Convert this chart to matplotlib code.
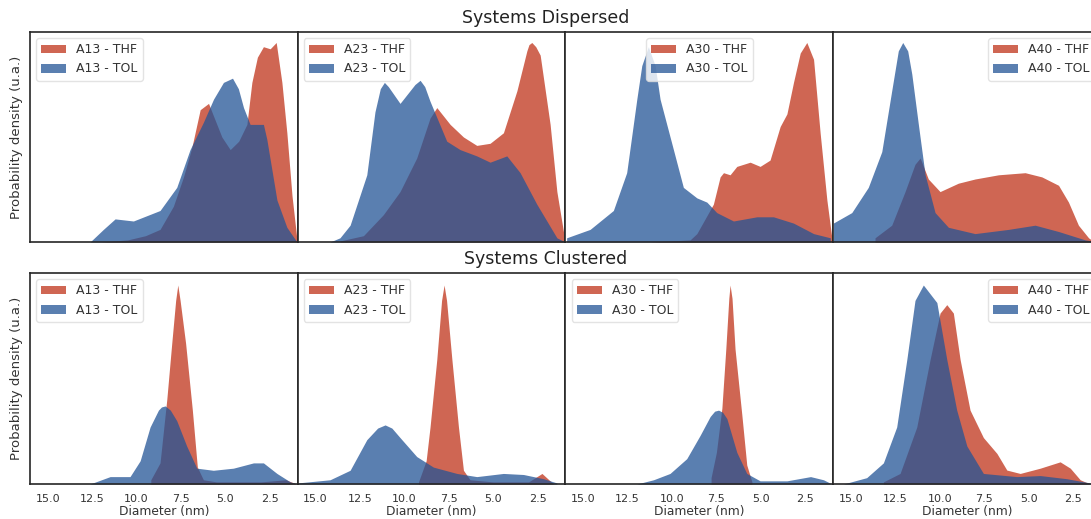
import matplotlib
matplotlib.use('Agg')
import matplotlib.pyplot as plt

systems = ['A13', 'A23', 'A30', 'A40']
solvents = ['THF', 'TOL']
row_titles = ['Systems Dispersed', 'Systems Clustered']
x_ticks = [15.0, 12.5, 10.0, 7.5, 5.0, 2.5]
x_label = 'Diameter (nm)'
y_label = 'Probability density (u.a.)'

# ---- dispersed (density scaled to panel height)
d13_thf_x = [12.0, 10.5, 9.5, 8.68, 7.93, 7.36, 6.89, 6.42, 5.95, 5.67, 5.2, 4.73, 4.25, 3.79,
             3.51, 3.2, 2.86, 2.48, 2.14, 1.82, 1.54, 1.25, 0.97]
d13_thf_y = [0.0, 0.01, 0.03, 0.06, 0.17, 0.31, 0.45, 0.63, 0.66, 0.6, 0.5, 0.44, 0.48, 0.56,
             0.76, 0.88, 0.93, 0.92, 0.95, 0.76, 0.52, 0.22, 0.01]
d13_tol_x = [12.62, 11.87, 11.21, 10.18, 8.68, 7.74, 6.99, 6.24, 5.67, 5.11, 4.6, 4.27, 3.98,
             3.61, 2.86, 2.67, 2.1, 1.54, 0.97]
d13_tol_y = [0.0, 0.06, 0.11, 0.10, 0.15, 0.26, 0.44, 0.57, 0.68, 0.76, 0.78, 0.73, 0.64,
             0.56, 0.56, 0.49, 0.2, 0.07, 0.0]

d23_thf_x = [13.62, 12.3, 11.18, 10.24, 9.3, 8.55, 8.17, 7.42, 6.67, 5.92, 5.17, 4.42, 3.66,
             3.1, 2.98, 2.82, 2.6, 2.35, 1.79, 1.41, 1.04, 0.94]
d23_thf_y = [0.005, 0.03, 0.13, 0.24, 0.4, 0.59, 0.64, 0.56, 0.5, 0.46, 0.47, 0.52, 0.72,
             0.91, 0.94, 0.95, 0.93, 0.89, 0.56, 0.24, 0.05, 0.0]
d23_tol_x = [14.18, 13.62, 13.05, 12.11, 11.65, 11.35, 11.12, 10.9, 10.24, 9.4, 9.11, 8.85,
             8.55, 7.61, 6.86, 5.92, 5.17, 4.23, 3.48, 2.54, 1.41, 0.94]
d23_tol_y = [0.0, 0.02, 0.08, 0.32, 0.62, 0.73, 0.76, 0.74, 0.66, 0.75, 0.77, 0.74,
             0.67, 0.48, 0.44, 0.41, 0.38, 0.41, 0.33, 0.18, 0.02, 0.0]

d30_thf_x = [11.23, 8.98, 8.6, 7.67, 7.29, 7.1, 6.73, 6.35, 5.6, 5.04, 4.48, 3.91, 3.53, 3.16,
             2.78, 2.41, 2.03, 1.66, 1.28, 1.0]
d30_thf_y = [0.0, 0.01, 0.04, 0.18, 0.31, 0.33, 0.32, 0.36, 0.38, 0.36, 0.39, 0.55, 0.61, 0.76,
             0.9, 0.95, 0.87, 0.52, 0.2, 0.02]
d30_tol_x = [15.93, 14.61, 13.3, 12.55, 11.98, 11.7, 11.33, 10.95, 10.67, 9.92, 9.36, 8.6,
             8.04, 7.48, 6.54, 5.22, 4.29, 3.16, 2.03, 1.09]
d30_tol_y = [0.02, 0.06, 0.15, 0.33, 0.68, 0.84, 0.93, 0.84, 0.68, 0.44, 0.26, 0.21,
             0.19, 0.14, 0.1, 0.12, 0.12, 0.09, 0.04, 0.02]

d40_thf_x = [13.64, 12.7, 11.95, 11.39, 11.1, 10.64, 9.98, 8.95, 8.01, 6.69, 5.19, 4.25, 3.31,
             2.75, 2.19, 1.62, 1.3]
d40_thf_y = [0.02, 0.08, 0.24, 0.37, 0.4, 0.3, 0.24, 0.28, 0.3, 0.32, 0.33, 0.31, 0.27,
             0.19, 0.08, 0.02, 0.0]
d40_tol_x = [15.99, 14.95, 14.02, 13.26, 12.7, 12.33, 12.08, 11.8, 11.57, 11.2, 10.82, 10.26,
             9.51, 8.01, 6.13, 4.63, 3.31, 1.81, 0.94]
d40_tol_y = [0.09, 0.14, 0.26, 0.43, 0.72, 0.91, 0.95, 0.91, 0.8, 0.56, 0.32, 0.14,
             0.07, 0.04, 0.06, 0.08, 0.05, 0.01, 0.0]

# ---- clustered
c13_thf_x = [9.2, 8.68, 8.3, 8.02, 7.8, 7.68, 7.55, 7.24, 6.86, 6.58, 6.24, 5.5, 3.0, 1.6, 1.0]
c13_thf_y = [0.02, 0.1, 0.4, 0.667, 0.87, 0.943, 0.87, 0.667, 0.35, 0.08, 0.02, 0.01, 0.01,
             0.02, 0.0]
c13_tol_x = [12.62, 11.49, 10.37, 9.8, 9.24, 8.77, 8.6, 8.39, 8.1, 7.74, 7.18, 6.61, 5.68,
             4.55, 3.42, 2.86, 2.1, 1.35, 0.94]
c13_tol_y = [0.0, 0.035, 0.035, 0.11, 0.27, 0.35, 0.365, 0.37, 0.35, 0.3, 0.18, 0.075, 0.065,
             0.075, 0.1, 0.1, 0.05, 0.01, 0.0]

c23_thf_x = [9.2, 8.77, 8.55, 8.17, 7.9, 7.76, 7.62, 7.32, 6.95, 6.67, 6.3, 5.0, 3.0, 2.25,
             1.6]
c23_thf_y = [0.01, 0.11, 0.27, 0.59, 0.87, 0.943, 0.87, 0.59, 0.27, 0.065, 0.02, 0.01, 0.01,
             0.05, 0.0]
c23_tol_x = [16.0, 14.18, 13.05, 12.11, 11.5, 11.08, 10.7, 10.24, 9.3, 8.36, 7.04, 5.92, 4.42,
             3.29, 2.16, 1.41]
c23_tol_y = [0.005, 0.02, 0.065, 0.21, 0.265, 0.28, 0.265, 0.22, 0.13, 0.08, 0.05, 0.035,
             0.05, 0.045, 0.025, 0.005]

c30_thf_x = [7.8, 7.5, 7.19, 6.97, 6.8, 6.73, 6.62, 6.45, 6.07, 5.79, 5.5]
c30_thf_y = [0.03, 0.15, 0.36, 0.64, 0.88, 0.943, 0.88, 0.64, 0.33, 0.09, 0.01]
c30_tol_x = [11.98, 11.04, 10.11, 9.17, 8.42, 7.85, 7.6, 7.38, 7.15, 6.91, 6.35, 5.79, 5.04,
             3.53, 2.2, 1.47, 1.0]
c30_tol_y = [0.0, 0.02, 0.05, 0.12, 0.23, 0.32, 0.345, 0.35, 0.34, 0.31, 0.15, 0.05, 0.015,
             0.015, 0.035, 0.02, 0.0]

c40_thf_x = [13.17, 12.23, 11.29, 10.54, 9.98, 9.6, 9.23, 8.85, 8.29, 7.54, 6.78, 6.22, 5.47,
             4.34, 3.22, 2.65, 2.09, 1.53]
c40_thf_y = [0.01, 0.05, 0.27, 0.59, 0.81, 0.85, 0.81, 0.59, 0.35, 0.22, 0.145, 0.066, 0.05,
             0.075, 0.105, 0.075, 0.02, 0.0]
c40_tol_x = [15.42, 14.11, 13.17, 12.42, 11.85, 11.39, 10.92, 10.16, 9.6, 9.04, 8.47, 7.54,
             5.66, 4.34, 2.84, 1.53]
c40_tol_y = [0.0, 0.03, 0.1, 0.27, 0.59, 0.87, 0.943, 0.86, 0.59, 0.35, 0.18, 0.05,
             0.035, 0.04, 0.025, 0.005]

curves = [
    [(d13_thf_x, d13_thf_y, d13_tol_x, d13_tol_y), (d23_thf_x, d23_thf_y, d23_tol_x, d23_tol_y),
     (d30_thf_x, d30_thf_y, d30_tol_x, d30_tol_y), (d40_thf_x, d40_thf_y, d40_tol_x, d40_tol_y)],
    [(c13_thf_x, c13_thf_y, c13_tol_x, c13_tol_y), (c23_thf_x, c23_thf_y, c23_tol_x, c23_tol_y),
     (c30_thf_x, c30_thf_y, c30_tol_x, c30_tol_y), (c40_thf_x, c40_thf_y, c40_tol_x, c40_tol_y)],
]
legend_locs = [['upper left', 'upper left', 'upper center', 'upper right'],
               ['upper left', 'upper left', 'upper left', 'upper right']]

red = '#c0331a'
blue = '#235496'
alpha = 0.75

W, H = 1091, 519
fig = plt.figure(figsize=(W / 100, H / 100), dpi=100)

left0 = 30 / W
pw = 267.7 / W
row_top = [32, 273]
row_bot = [242, 484]

for r in range(2):
    for c in range(4):
        ax = fig.add_axes([left0 + c * pw, 1 - row_bot[r] / H, pw, (row_bot[r] - row_top[r]) / H])
        tx, ty, ox, oy = curves[r][c]
        ax.fill_between(tx, ty, color=red, alpha=alpha, lw=0,
                        label=f'{systems[c]} - {solvents[0]}')
        ax.fill_between(ox, oy, color=blue, alpha=alpha, lw=0,
                        label=f'{systems[c]} - {solvents[1]}')
        ax.set_xlim(16.0, 0.93)
        ax.set_ylim(0, 1.0)
        ax.set_yticks([])
        ax.set_xticks(x_ticks)
        ax.tick_params(axis='x', length=0, pad=7, labelsize=8, colors='#333333')
        if r == 0:
            ax.set_xticklabels([])
        else:
            ax.set_xlabel(x_label, fontsize=8.8, labelpad=1, color='#333333')
        if c == 0:
            ax.set_ylabel(y_label, fontsize=9.5, labelpad=5, color='#333333')
        for s in ax.spines.values():
            s.set_color('#262626')
            s.set_linewidth(1.2)
        leg = ax.legend(loc=legend_locs[r][c], fontsize=9, framealpha=0.8, edgecolor='#dddddd')
        for t in leg.get_texts():
            t.set_color('#333333')

fig.text(0.5, 1 - 18 / H, row_titles[0], ha='center', va='center', fontsize=12.5, color='#222222')
fig.text(0.5, 1 - 259 / H, row_titles[1], ha='center', va='center', fontsize=12.5, color='#222222')

fig.savefig('out.png', dpi=100)
